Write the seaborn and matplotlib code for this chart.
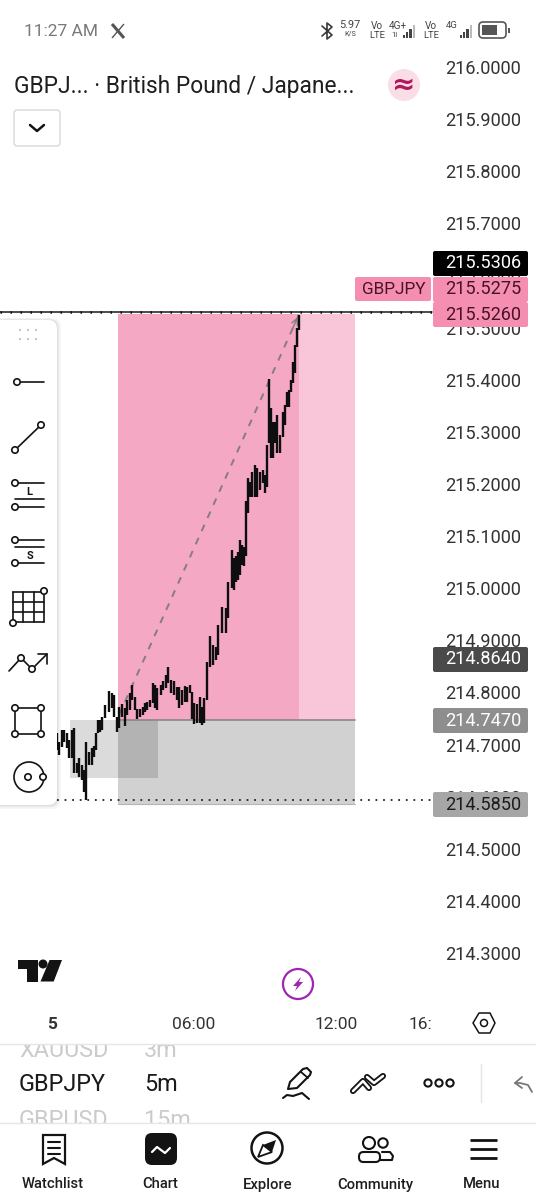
import matplotlib
matplotlib.use("Agg")
import matplotlib.pyplot as plt
import numpy as np
import pandas as pd
import seaborn as sns
from matplotlib.patches import Circle, FancyBboxPatch, Polygon, Rectangle

W, H = 536, 1200

# bars: minutes since midnight, high, low
bar_minutes = [13, 18, 25, 30, 38, 43, 51, 56, 63, 68, 76, 81, 86, 94, 101, 106, 112, 117, 122, 127,
               134, 145, 152, 157, 165, 170, 177, 185, 190, 198, 203, 210, 216, 223, 231, 236, 241, 248, 256, 261,
               266, 276, 281, 289, 294, 302, 309, 317, 322, 330, 337, 342, 350, 355, 360, 368, 375, 380, 385, 393,
               401, 408, 416, 421, 431, 441, 446, 456, 461, 466, 472, 477, 482, 487, 492, 497, 502, 507, 515, 520,
               527, 535, 540, 545, 550, 555, 560, 565, 571, 578, 586, 591, 596, 601, 606, 611, 616, 621, 626]
bar_high = [214.723, 214.705, 214.728, 214.728, 214.723, 214.709, 214.728, 214.732, 214.665, 214.675,
            214.661, 214.651, 214.705, 214.686, 214.694, 214.698, 214.723, 214.748, 214.748, 214.753,
            214.776, 214.803, 214.799, 214.796, 214.753, 214.773, 214.778, 214.771, 214.786, 214.799,
            214.815, 214.792, 214.769, 214.769, 214.773, 214.780, 214.782, 214.786, 214.819, 214.815,
            214.809, 214.815, 214.821, 214.834, 214.849, 214.824, 214.821, 214.811, 214.811, 214.805,
            214.813, 214.811, 214.815, 214.801, 214.780, 214.778, 214.792, 214.773, 214.790, 214.859,
            214.908, 214.891, 214.887, 214.930, 214.964, 214.962, 215.012, 215.073, 215.057, 215.061,
            215.069, 215.092, 215.082, 215.080, 215.167, 215.212, 215.203, 215.222, 215.237, 215.231,
            215.223, 215.227, 215.217, 215.275, 215.402, 215.346, 215.319, 215.319, 215.333, 215.294,
            215.338, 215.352, 215.377, 215.380, 215.400, 215.434, 215.467, 215.500, 215.525]
bar_low = [214.690, 214.680, 214.696, 214.705, 214.694, 214.675, 214.675, 214.646, 214.646, 214.638,
           214.632, 214.609, 214.594, 214.661, 214.661, 214.677, 214.690, 214.723, 214.725, 214.728,
           214.751, 214.763, 214.771, 214.753, 214.725, 214.732, 214.753, 214.736, 214.757, 214.767,
           214.786, 214.767, 214.749, 214.753, 214.757, 214.763, 214.767, 214.773, 214.780, 214.771,
           214.767, 214.796, 214.805, 214.809, 214.819, 214.799, 214.796, 214.786, 214.771, 214.776,
           214.782, 214.782, 214.799, 214.749, 214.740, 214.742, 214.742, 214.738, 214.742, 214.786,
           214.849, 214.853, 214.862, 214.872, 214.914, 214.914, 214.943, 215.001, 214.997, 215.011,
           215.016, 215.026, 215.044, 215.042, 215.061, 215.145, 215.175, 215.175, 215.175, 215.175,
           215.189, 215.202, 215.183, 215.194, 215.279, 215.250, 215.250, 215.279, 215.260, 215.260,
           215.290, 215.313, 215.348, 215.348, 215.377, 215.394, 215.413, 215.463, 215.496]

# long position drawing
pos_minutes = [167, 626, 768]
pos_entry = 214.747
pos_target = 215.526
pos_stop = 214.585
zone_minutes = [46, 269]
zone_prices = [214.636, 214.747]
trend_minutes = [170, 626]
trend_prices = [214.757, 215.525]
top_line_price = 215.529
low_line_price = 214.594

price_ticks = [216.0, 215.9, 215.8, 215.7, 215.6, 215.5, 215.4, 215.3, 215.2, 215.1, 215.0,
               214.9, 214.8, 214.7, 214.6, 214.5, 214.4, 214.3]
time_ticks = [0, 360, 720, 960]
time_labels = ["5", "06:00", "12:00", "16:00"]

tag_prices = [215.5306, 215.5275, 215.5260, 214.8640, 214.7470, 214.5850]
tag_tops = [251, 277, 302, 647, 708, 792]
tag_fills = ["#000000", "#F48FB1", "#F48FB1", "#4A4A4A", "#8E8E8E", "#A6A6A6"]
tag_inks = ["#FFFFFF", "#4A1128", "#4A1128", "#FFFFFF", "#FFFFFF", "#1C1C1C"]

nav_names = ["Watchlist", "Chart", "Explore", "Community", "Menu"]
nav_x = [53, 160, 268, 375, 482]

sns.set_theme(style="white")
plt.rcParams["font.family"] = ["Roboto", "DejaVu Sans"]

fig = plt.figure(figsize=(W / 100, H / 100), dpi=100, facecolor="white")
ax = fig.add_axes([0, 0, 1, 1])

# pixel mapping of the app: 06:00 at x=194, 2.535 min per pixel; 216.0 at y=67, 521.2 px per unit
ax_xlim = (360 - 194 * 2.535, 360 + (W - 194) * 2.535)
ax_ylim = (216 + 67 / 521.2 - H / 521.2, 216 + 67 / 521.2)

# position boxes
ax.fill_between(pos_minutes[:2], pos_entry, pos_target, color="#F4A8C3", lw=0, zorder=1)
ax.fill_between(pos_minutes[1:], pos_entry, pos_target, color="#F9C6D9", lw=0, zorder=1)
ax.fill_between([pos_minutes[0], pos_minutes[2]], pos_stop, pos_entry, color="#D1D1D1", lw=0, zorder=1)
ax.fill_between(zone_minutes, zone_prices[0], zone_prices[1], color="black", alpha=0.14, lw=0, zorder=1.2)
ax.plot([pos_minutes[0], pos_minutes[2]], [pos_entry, pos_entry], color="#8C8488", lw=1.2, zorder=1.3)
ax.plot([pos_minutes[0], pos_minutes[2]], [pos_stop, pos_stop], color="#B5B5B5", lw=0.8, zorder=1.3)

# bars
bars = pd.DataFrame({
    "minute": np.repeat(bar_minutes, 2),
    "price": np.column_stack([bar_low, bar_high]).ravel(),
    "bar": np.repeat(np.arange(len(bar_minutes)), 2),
})
sns.lineplot(data=bars, x="minute", y="price", units="bar", estimator=None, sort=False,
             color="#0E0E0E", linewidth=1.7, solid_capstyle="butt", legend=False, ax=ax, zorder=3)

# trend arrow
trend = pd.DataFrame({"minute": trend_minutes, "price": trend_prices})
sns.lineplot(data=trend, x="minute", y="price", estimator=None, sort=False, color="#857C82",
             linewidth=1.4, linestyle=(0, (3.6, 3.8)), ax=ax, zorder=2.5)
ax.annotate("", xy=(trend_minutes[1], trend_prices[1]), xytext=(trend_minutes[1] - 18, trend_prices[1] - 0.03),
            arrowprops=dict(arrowstyle="->", color="#857C82", lw=1, mutation_scale=11), zorder=2.5)

# level lines up to the price scale
level_end = 360 + (432 - 194) * 2.535
ax.plot([ax_xlim[0], level_end], [top_line_price, top_line_price], color="#1A1A1A", lw=1.1, zorder=4)
ax.plot([ax_xlim[0], level_end], [top_line_price, top_line_price], color="#111111", lw=1.8,
        dashes=(0.6, 3.4), zorder=4)
ax.plot([bar_minutes[0], level_end], [low_line_price, low_line_price], color="#222222", lw=1.3,
        dashes=(1, 3.2), zorder=4)

ax.set_xlim(ax_xlim)
ax.set_ylim(ax_ylim)
ax.set_xlabel("")
ax.set_ylabel("")
sns.despine(ax=ax, left=True, bottom=True)
ax.yaxis.tick_right()
ax.set_yticks(price_ticks, [f"{p:.4f}" for p in price_ticks])
ax.set_xticks(time_ticks, time_labels)
ax.tick_params(axis="y", length=0, pad=-(W - 445) * 0.72, labelsize=13.1, labelcolor="#333333")
ax.tick_params(axis="x", length=0, pad=-(H - 1017) * 0.72, labelsize=12.5, labelcolor="#333333")
ax.get_xticklabels()[0].set_fontweight("bold")
ax.grid(False)

# app chrome drawn in screen pixels
ui = fig.add_axes([0, 0, 1, 1], facecolor="none")
ui.set_xlim(0, W)
ui.set_ylim(H, 0)
ui.axis("off")
INK = "#131313"


def line(xs, ys, color=INK, lw=1.2, zorder=7, cap="round"):
    ui.plot(xs, ys, color=color, lw=lw, solid_capstyle=cap, solid_joinstyle="round", zorder=zorder)


def ring(x, y, r=3.2, color=INK, lw=1.2, fill="white"):
    ui.add_patch(Circle((x, y), r, fc=fill, ec=color, lw=lw, zorder=6))


def box(x0, y0, x1, y1, fc, ec="none", rad=2, lw=1, z=5):
    ui.add_patch(FancyBboxPatch((x0 + rad, y0 + rad), x1 - x0 - 2 * rad, y1 - y0 - 2 * rad,
                                boxstyle=f"round,pad={rad},rounding_size={rad}", fc=fc, ec=ec, lw=lw, zorder=z))


# price tags
for price, top, fill, ink in zip(tag_prices, tag_tops, tag_fills, tag_inks):
    box(433, top, 528, top + 25, fill, rad=2)
    ui.text(483, top + 12.5, f"{price:.4f}", color=ink, fontsize=13.1, ha="center", va="center", zorder=7)
box(355, 277, 431, 301, "#F48FB1", rad=2)
ui.text(393.5, 289, "GBPJPY", color="#4A1128", fontsize=12.3, ha="center", va="center", zorder=7)

# status bar
ui.text(24, 31, "11:27 AM", color="#7A7A7A", fontsize=12.5, va="center")
line([112, 124], [24, 38], color="#555555", lw=2.2, cap="butt")
line([124, 112], [24, 38], color="#555555", lw=1, cap="butt")
line([322, 332, 327, 327, 332, 322], [26, 35, 39, 23, 27, 36], color="#3A3A3A", lw=1.2)
ui.text(350, 25, "5.97", color="#444444", fontsize=7.8, ha="center", va="center")
ui.text(350, 34, "K/S", color="#444444", fontsize=5.2, ha="center", va="center")
for vx in [377, 431]:
    ui.text(vx, 26, "Vo", color="#444444", fontsize=7.2, ha="center", va="center")
    ui.text(vx, 35, "LTE", color="#444444", fontsize=6.8, ha="center", va="center")
ui.text(398, 26, "4G+", color="#444444", fontsize=7.2, ha="center", va="center")
ui.text(394, 35, "1l", color="#444444", fontsize=5.5, ha="center", va="center")
ui.text(452, 26, "4G", color="#444444", fontsize=6.8, ha="center", va="center")
for base, hts in [(403, [3, 6, 9, 13]), (460, [3, 6, 9, 13])]:
    for i, h in enumerate(hts):
        ui.add_patch(Rectangle((base + i * 3.2, 38 - h), 2.2, h, fc="#444444" if i < 3 else "#BBBBBB", lw=0))
box(479, 22, 506, 38, "white", ec="#555555", rad=4, lw=1.2)
ui.add_patch(Rectangle((482, 25), 15, 10, fc="#555555", lw=0, zorder=6))
ui.add_patch(Rectangle((508, 28), 1.5, 5, fc="#555555", lw=0, zorder=6))

# symbol header
ui.text(14, 86, "GBPJ... · British Pound / Japane...", color="#1E1E1E", fontsize=16.4, va="center")
ui.add_patch(Circle((404, 85), 16, fc="#FADDE7", lw=0))
ui.text(404, 85, "≈", color="#B0185C", fontsize=20, ha="center", va="center", fontweight="bold",
        family=["DejaVu Sans"])
box(14, 110, 60, 146, "white", ec="#D9D9D9", rad=3, lw=1)
line([30, 37, 44], [125, 131, 125], lw=1.8)

# drawing toolbar
for grow, alpha in [(4, 0.03), (2.5, 0.04), (1.2, 0.05)]:
    box(-10, 320 - grow / 2, 57 + grow, 805 + grow, (0, 0, 0, alpha), rad=9, z=4.5)
box(-10, 320, 57, 805, "white", rad=9, z=4.6)
for gx in [20, 28, 36]:
    for gy in [330, 339]:
        ui.add_patch(Rectangle((gx - 1, gy - 1), 2.2, 2.2, fc="#C4C4C4", lw=0, zorder=6))


def tool(xs, ys, lw=1.2):
    ui.plot(xs, ys, color=INK, lw=lw, zorder=5.5, solid_capstyle="round")


tool([17, 44], [382, 382]); ring(17, 382)
tool([15, 41], [450, 425]); ring(15, 450); ring(41, 425)
tool([15, 44], [483, 483]); tool([15, 44], [499, 499]); tool([15, 44], [507, 507]); ring(15, 483); ring(15, 507)
ui.text(29, 492, "L", fontsize=8, fontweight="bold", color=INK, ha="center", va="center", zorder=6)
tool([15, 44], [540, 540]); tool([15, 44], [547, 547]); tool([15, 44], [563, 563]); ring(15, 540); ring(15, 563)
ui.text(30, 556, "S", fontsize=8, fontweight="bold", color=INK, ha="center", va="center", zorder=6)
for gx in [12.5, 23, 33.5, 44]:
    tool([gx, gx], [592, 622])
for gy in [592, 602, 612, 622]:
    tool([12.5, 44], [gy, gy])
ring(44, 591); ring(13, 623)
tool([9, 21, 32, 47], [671, 658, 669, 654]); tool([38, 47, 47], [654, 654, 664]); ring(21, 658); ring(32, 669)
tool([15, 41, 41, 15, 15], [708, 708, 734, 734, 708])
for cx, cy in [(15, 708), (41, 708), (41, 734), (15, 734)]:
    ring(cx, cy)
ring(29, 777, r=15, fill="none"); ring(28, 777); ring(43, 777)

# logo and bolt
ui.add_patch(Polygon([(18, 960), (37.6, 960), (37.6, 981.5), (26.7, 981.5), (26.7, 969), (18, 969)], fc=INK, lw=0))
ui.add_patch(Circle((43, 964), 4.5, fc=INK, lw=0))
ui.add_patch(Polygon([(49.6, 960), (62, 960), (53.7, 981.5), (40.5, 981.5)], fc=INK, lw=0))
ring(298, 984, r=15, color="#9C27B0", lw=1.6)
ui.add_patch(Polygon([(301, 977), (293, 986), (297, 986), (295, 991), (303, 982), (299, 982)], fc="#9C27B0", lw=0, zorder=7))

# cut the 16:00 label at the scale edge, settings hexagon
ui.add_patch(Rectangle((432, 1008), 104, 30, fc="white", lw=0, zorder=5))
ui.add_patch(Polygon([(473, 1023), (479, 1013), (490, 1013), (495, 1023), (490, 1033), (479, 1033)],
                     fc="white", ec=INK, lw=1.1, zorder=6, joinstyle="round"))
ring(484, 1023, r=3.5, lw=1.1)

# symbol strip, neighbours cut off by the strip edges
line([0, W], [1044, 1044], color="#E6E6E6", lw=1)
line([0, W], [1123, 1123], color="#E6E6E6", lw=1)
strip = Rectangle((0, 1045), W, 78, transform=ui.transData)
for base_y, sym, tf, col in [(1057, "XAUUSD", "3m", "#CBCBCB"), (1091, "GBPJPY", "5m", "#1A1A1A"),
                             (1127, "GBPUSD", "15m", "#CBCBCB")]:
    ts = ui.text(19, base_y, sym, color=col, fontsize=16.8, va="baseline")
    tt = ui.text(144, base_y, tf, color=col, fontsize=16.8, va="baseline")
    for t in (ts, tt):
        t.set_clip_on(True)
        t.set_clip_path(strip)

# pencil
ui.add_patch(Polygon([(288, 1089), (290, 1082), (303, 1069), (307, 1068), (311, 1072), (310, 1075), (297, 1088)],
                     fc="white", ec=INK, lw=1.5, zorder=7, joinstyle="round"))
line([301, 308], [1072, 1078], lw=1.3)
line([283, 287, 293, 302, 309], [1098, 1095, 1096, 1093, 1099], lw=1.5)
# double chevrons, outlined bands
line([353, 363, 369], [1091, 1081, 1088], lw=4.4)
line([367, 374, 383], [1077, 1083, 1076], lw=4.4)
line([353, 363, 369], [1091, 1081, 1088], color="white", lw=1.8, zorder=7.1)
line([367, 374, 383], [1077, 1083, 1076], color="white", lw=1.8, zorder=7.1)
for ox in [428, 439, 450]:
    ring(ox, 1083, r=3.6, lw=1.5, fill="none")
line([481, 481], [1064, 1102], color="#E4E4E4", lw=1)
line([532, 528, 520, 515], [1092, 1085, 1083, 1083], color="#777777", lw=1.3)
line([522, 515, 522], [1077, 1083, 1088], color="#777777", lw=1.3)

# navigation icons
ui.add_patch(Polygon([(43, 1135), (65, 1135), (65, 1164), (54, 1158), (43, 1164)], fc="none", ec=INK, lw=1.6))
for ly in [1142, 1148, 1154]:
    line([47.5, 60], [ly, ly], lw=1.5)
box(145, 1133, 177, 1165, INK, rad=7)
line([152, 157, 165, 170], [1152, 1147, 1153, 1148], color="white", lw=1.6)
ring(267, 1148, r=15.5, lw=1.8, fill="none")
ui.add_patch(Polygon([(276, 1140), (272, 1152), (263, 1145)], fc=INK, lw=0, zorder=7))
ui.add_patch(Polygon([(258, 1157), (263, 1145), (272, 1152)], fc="white", ec=INK, lw=1.3, zorder=7))
ring(369, 1143, r=6, lw=1.5, fill="none")
ring(383, 1143, r=4.7, lw=1.5, fill="none")
line([382, 390, 393, 392, 380], [1152, 1152, 1156, 1160, 1160], lw=1.5)
box(359, 1152, 380, 1162, "white", ec=INK, rad=4.5, lw=1.5, z=7)
for ly in [1140, 1149, 1158]:
    line([470, 497], [ly, ly], lw=2, cap="butt")
for nx, name in zip(nav_x, nav_names):
    ui.text(nx, 1184.5, name, color="#1E1E1E", fontsize=10.6, ha="center", va="center", fontweight="medium")

fig.savefig("out.png", dpi=100, facecolor="white")
